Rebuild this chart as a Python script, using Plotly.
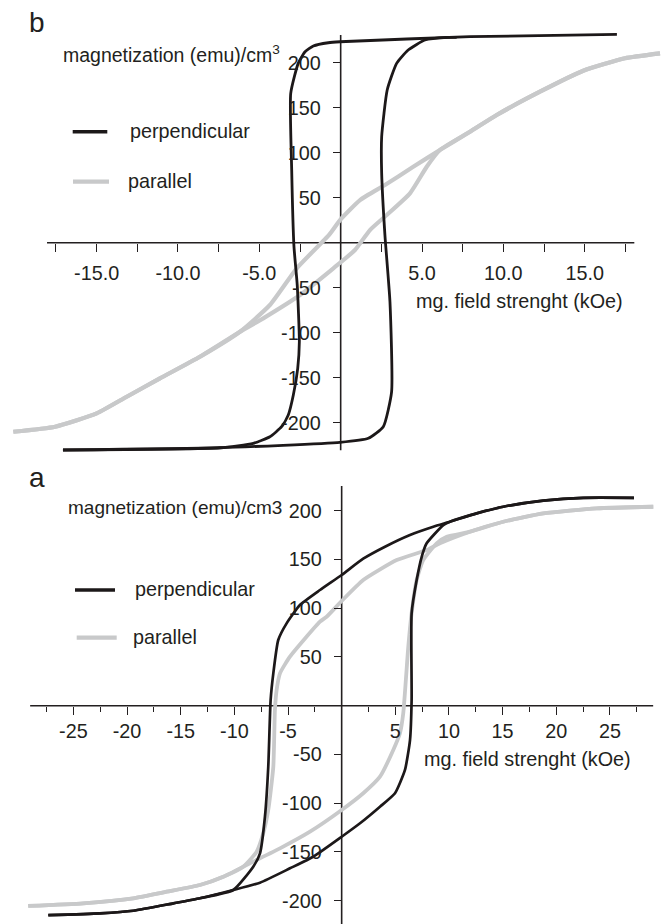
import plotly.graph_objects as go

W, H = 661, 924
INK = "#231f20"
GRAY = "#c8c9ca"
DARK = "#1c1819"
FONT = "Liberation Sans, Arial, sans-serif"
FS = 19.8

# ---------------- panel b (top) data : field (kOe), magnetization (emu/cm3)
b_perp_desc_h = [16.98, 7.95, -0.04, -0.76, -1.68, -2.19, -2.61, -3.07, -3.01, -2.87, -2.67,
                 -2.54, -2.64, -2.91, -3.22, -3.63, -4.35, -5.37, -7.42, -17.07]
b_perp_desc_m = [231.6, 228.9, 223.3, 222.2, 218.6, 212.2, 199.3, 166.0, 80.8, -4.4, -47.0,
                 -110.0, -139.6, -169.2, -191.4, -204.4, -215.6, -222.9, -227.8, -230.3]
b_perp_asc_h = [-17.07, -7.42, -0.04, 1.70, 2.62, 3.13, 3.03, 2.72, 2.52, 2.52, 2.86, 3.44,
                4.15, 5.18, 6.52, 7.13]
b_perp_asc_m = [-230.3, -227.8, -221.8, -217.3, -204.4, -165.6, -65.6, 8.6, 77.1, 117.8,
                169.7, 199.3, 214.1, 225.2, 228.2, 228.2]
b_par_desc_h = [19.63, 17.47, 14.91, 12.25, 9.59, 7.95, 6.10, 4.46, 2.72, 1.19, -0.04, -0.70,
                -2.70, -4.35, -6.19, -8.65, -11.11, -13.15, -15.0, -17.55, -20.12]
b_par_desc_m = [210.4, 204.9, 191.1, 167.8, 141.9, 123.3, 103.0, 84.4, 64.1, 47.4, 25.2, 9.0,
                -28.4, -69.2, -98.9, -126.7, -150.7, -171.1, -189.6, -204.4, -210.0]
b_par_asc_h = [-20.12, -17.55, -15.0, -13.15, -11.11, -8.65, -6.19, -4.76, -2.50, -0.45, 0.88,
               1.80, 2.83, 4.26, 5.29, 6.10, 7.95, 9.59, 12.25, 14.91, 17.47, 19.63]
b_par_asc_m = [-210.0, -204.4, -189.6, -171.1, -150.7, -126.7, -98.9, -84.0, -58.1, -28.4, -8.1,
               14.1, 30.8, 54.9, 84.4, 103.0, 123.3, 141.9, 167.8, 191.1, 204.9, 210.4]

# ---------------- panel a (bottom) data
a_perp_desc_h = [27.24, 22.52, 18.79, 15.06, 12.58, 10.09, 8.54, 6.37, 4.04, 2.01, 0.0, -2.02,
                 -3.89, -5.13, -5.91, -6.37, -6.62, -6.84, -7.15, -7.61, -8.24, -10.10, -13.21,
                 -15.69, -19.42, -22.53, -27.34]
a_perp_desc_m = [213.3, 213.3, 210.3, 204.1, 197.3, 188.7, 183.6, 175.1, 163.1, 150.8, 134.1,
                 118.7, 103.3, 84.5, 67.4, 33.2, 5.8, -62.6, -113.8, -151.4, -165.1, -189.0,
                 -197.5, -202.7, -210.3, -212.9, -214.7]
a_perp_asc_h = [-27.34, -22.53, -19.42, -15.69, -13.21, -10.10, -7.61, -4.82, -2.65, 0.0, 1.71,
                3.57, 4.97, 5.90, 6.37, 6.52, 6.52, 6.99, 7.46, 7.92, 9.47, 10.09, 12.58, 15.06,
                18.79, 22.52, 27.24]
a_perp_asc_m = [-214.7, -212.9, -210.3, -202.7, -197.5, -189.0, -181.5, -166.8, -154.9, -134.4,
                -120.6, -103.6, -89.8, -65.9, -35.2, 5.8, 94.8, 128.9, 152.8, 166.6, 185.3, 188.7,
                197.3, 204.1, 210.3, 213.3, 213.3]
a_par_desc_h = [29.04, 23.77, 18.79, 15.06, 11.96, 9.16, 7.92, 5.13, 2.01, 0.0, -1.40, -2.02,
                -4.82, -5.75, -6.06, -6.22, -6.37, -6.84, -7.31, -7.92, -9.17, -11.03, -13.21,
                -16.31, -19.42, -24.08, -29.21]
a_par_desc_m = [204.1, 202.5, 197.3, 188.7, 178.5, 166.6, 159.7, 149.4, 128.9, 107.4, 91.3, 86.2,
                50.3, 33.2, 16.1, -4.4, -62.6, -107.0, -130.9, -149.7, -165.1, -175.4, -183.9,
                -190.8, -197.5, -202.7, -205.4]
a_par_asc_h = [-29.21, -24.08, -19.42, -16.31, -13.21, -11.03, -8.55, -5.75, -2.95, 0.0, 2.01,
               3.57, 4.81, 5.43, 5.74, 6.21, 6.52, 6.99, 7.60, 8.85, 9.79, 11.96, 15.06, 18.79,
               23.77, 29.04]
a_par_asc_m = [-205.4, -202.7, -197.5, -190.8, -183.9, -175.4, -161.6, -146.3, -129.2, -107.0,
               -89.8, -72.8, -45.4, -28.3, -7.8, 60.5, 94.8, 128.9, 149.4, 166.6, 173.3, 178.5,
               188.7, 197.3, 202.5, 204.1]

# ---------------- ticks
b_xticks = [-15, -10, -5, 5, 10, 15]
b_xticklabels = ["-15.0", "-10.0", "-5.0", "5.0", "10.0", "15.0"]
b_xminor = [-17.5, -12.5, -7.5, -2.5, 2.5, 7.5, 12.5, 17.5]
b_yticks = [-200, -150, -100, -50, 50, 100, 150, 200]
b_yticklabels = ["-200", "-150", "-100", "-50", "50", "100", "150", "200"]
a_xticks = [-25, -20, -15, -10, -5, 5, 10, 15, 20, 25]
a_xticklabels = ["-25", "-20", "-15", "-10", "-5", "5", "10", "15", "20", "25"]
a_xminor = [-27.5, -22.5, -17.5, -12.5, -7.5, -2.5, 2.5, 7.5, 12.5, 17.5, 22.5, 27.5]
a_yticks = [-200, -150, -100, -50, 50, 100, 150, 200]
a_yticklabels = ["-200", "-150", "-100", "-50", "50", "100", "150", "200"]

# ---------------- layout geometry (axis ranges / domains)
B_XRANGE = [-20.94, 19.69]
B_YRANGE = [-241.4, 269.7]
B_YDOM = [1 - 460 / H, 1.0]
A_XRANGE = [-31.84, 29.76]
A_YRANGE = [-223.9, 250.0]
A_YDOM = [0.0, 0.5]
B_XLINE = [-18.05, 18.05]
B_YLINE = [-230.5, 230.8]
A_XLINE = [-29.03, 29.03]
A_YLINE = [-224.0, 225.3]


def frac(v, rng, dom):
    return dom[0] + (v - rng[0]) / (rng[1] - rng[0]) * (dom[1] - dom[0])


def px(x):
    return x / W


def py(y):
    return 1 - y / H


fig = go.Figure()


def add(h, m, color, width, xa, ya):
    fig.add_trace(go.Scatter(x=h, y=m, mode="lines", xaxis=xa, yaxis=ya,
                             line=dict(color=color, width=width, shape="spline", smoothing=0.5),
                             showlegend=False, hoverinfo="skip"))


add(b_par_desc_h, b_par_desc_m, GRAY, 4.2, "x", "y")
add(b_par_asc_h, b_par_asc_m, GRAY, 4.2, "x", "y")
add(b_perp_desc_h, b_perp_desc_m, DARK, 2.8, "x", "y")
add(b_perp_asc_h, b_perp_asc_m, DARK, 2.8, "x", "y")
add(a_par_desc_h, a_par_desc_m, GRAY, 3.8, "x2", "y2")
add(a_par_asc_h, a_par_asc_m, GRAY, 3.8, "x2", "y2")
add(a_perp_desc_h, a_perp_desc_m, DARK, 2.7, "x2", "y2")
add(a_perp_asc_h, a_perp_asc_m, DARK, 2.7, "x2", "y2")

tickfont = dict(family=FONT, size=FS, color=INK)
common = dict(showgrid=False, zeroline=False, showline=False, ticks="outside",
              tickcolor=INK, tickwidth=1.3, ticklen=8, tickfont=tickfont,
              tickmode="array", fixedrange=True)

fig.update_layout(
    width=W, height=H, autosize=False,
    margin=dict(l=0, r=0, t=0, b=0, pad=0),
    paper_bgcolor="white", plot_bgcolor="white",
    showlegend=False,
    xaxis=dict(domain=[0, 1], range=B_XRANGE, anchor="free",
               position=frac(0, B_YRANGE, B_YDOM), side="bottom",
               tickvals=b_xticks, ticktext=b_xticklabels, ticklabelstandoff=5,
               minor=dict(tickvals=b_xminor, ticks="outside", ticklen=8, tickwidth=1.3,
                          tickcolor=INK, showgrid=False), **common),
    yaxis=dict(domain=B_YDOM, range=B_YRANGE, anchor="free",
               position=frac(0, B_XRANGE, [0, 1]), side="left",
               tickvals=b_yticks, ticktext=b_yticklabels, ticklabelstandoff=8, **common),
    xaxis2=dict(domain=[0, 1], range=A_XRANGE, anchor="free",
                position=frac(0, A_YRANGE, A_YDOM), side="bottom",
                tickvals=a_xticks, ticktext=a_xticklabels, ticklabelstandoff=0,
                minor=dict(tickvals=a_xminor, ticks="outside", ticklen=5, tickwidth=1.3,
                           tickcolor=INK, showgrid=False), **common),
    yaxis2=dict(domain=A_YDOM, range=A_YRANGE, anchor="free",
                position=frac(0, A_XRANGE, [0, 1]), side="left",
                tickvals=a_yticks, ticktext=a_yticklabels, ticklabelstandoff=8, **common),
)

# axis lines crossing at the origin
shapes = [
    dict(type="line", xref="x", yref="y", x0=B_XLINE[0], x1=B_XLINE[1], y0=0, y1=0),
    dict(type="line", xref="x", yref="y", x0=0, x1=0, y0=B_YLINE[0], y1=B_YLINE[1]),
    dict(type="line", xref="x2", yref="y2", x0=A_XLINE[0], x1=A_XLINE[1], y0=0, y1=0),
    dict(type="line", xref="x2", yref="y2", x0=0, x1=0, y0=A_YLINE[0], y1=A_YLINE[1]),
]
for s in shapes:
    s["line"] = dict(color=INK, width=1.6)
    s["layer"] = "below"

# legend samples
legend_items = [
    # (x0, x1, y, color, width, label, text_x)
    (72.7, 107.3, 131.7, DARK, 3.4, "perpendicular", 127.7),
    (73.0, 109.0, 181.7, GRAY, 4.2, "parallel", 126.0),
    (75.0, 115.0, 590.0, DARK, 3.4, "perpendicular", 133.0),
    (76.7, 116.7, 637.7, GRAY, 4.2, "parallel", 131.0),
]
annotations = []
for x0, x1, yy, col, wd, lab, tx in legend_items:
    shapes.append(dict(type="line", xref="paper", yref="paper", x0=px(x0), x1=px(x1),
                       y0=py(yy), y1=py(yy), line=dict(color=col, width=wd)))
    annotations.append(dict(text=lab, x=px(tx), y=py(yy - 1), xref="paper", yref="paper",
                            xanchor="left", yanchor="middle", showarrow=False,
                            font=dict(family=FONT, size=FS, color=INK)))

texts = [
    ("b", 27, 22, 28),
    ("a", 27, 478, 28),
    ("magnetization (emu)/cm<sup>3</sup>", 61, 54, 19.5),
    ("mg. field strenght (kOe)", 414, 301, FS),
    ("magnetization (emu)/cm3", 66, 507, 19),
    ("mg. field strenght (kOe)", 422, 759, FS),
]
for t, x, y, s in texts:
    annotations.append(dict(text=t, x=px(x), y=py(y), xref="paper", yref="paper",
                            xanchor="left", yanchor="middle", showarrow=False,
                            font=dict(family=FONT, size=s, color=INK)))

fig.update_layout(shapes=shapes, annotations=annotations)
fig.write_html("out.html")
